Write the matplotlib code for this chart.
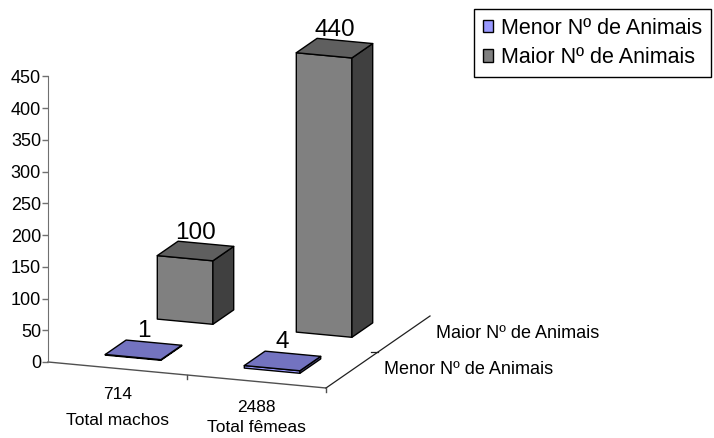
import matplotlib
matplotlib.use("Agg")
import matplotlib.pyplot as plt
from matplotlib.patches import Polygon, Patch

plt.rcParams["font.family"] = ["Liberation Sans", "DejaVu Sans"]

# dados
categorias = ["Total machos", "Total fêmeas"]
totais = ["714", "2488"]
series = ["Menor Nº de Animais", "Maior Nº de Animais"]
menor = [1, 4]
maior = [100, 440]
yticks = [0, 50, 100, 150, 200, 250, 300, 350, 400, 450]

# cores estilo excel (frente, topo, lado)
cores = {
    0: ("#9999FF", "#7373C0", "#4D4D80"),
    1: ("#808080", "#5F5F5F", "#404040"),
}

W, H = 714, 438
fig = plt.figure(figsize=(W / 100, H / 100), dpi=100)
ax = fig.add_axes([0, 0, 1, 1])

# escala: px por unidade
px_cat = 139.0
px_val = 285.7 / 450
x0, y0 = 48, 362
ax.set_xlim(-x0 / px_cat, (W - x0) / px_cat)
ax.set_ylim(-(H - y0) / px_val, y0 / px_val)

# projecao obliqua: categoria c, profundidade d, valor v
dx_d = 52 / px_cat
dy_c = -13 / px_val
dy_d = 36 / px_val


def proj(c, d, v):
    return (c + d * dx_d, v + c * dy_c + d * dy_d)


for s in ["top", "right", "bottom"]:
    ax.spines[s].set_visible(False)
ax.spines["left"].set_position(("data", 0))
ax.spines["left"].set_bounds(0, 450)
ax.spines["left"].set_color("#707070")
ax.set_xticks([])
ax.set_yticks(yticks)
ax.tick_params(axis="y", length=4, width=1, color="#707070", pad=1, labelsize=13)

# chao
f0 = proj(0, 0, 0)
f1 = proj(2, 0, 0)
f2 = proj(2, 2, 0)
ax.plot([f0[0], f1[0]], [f0[1], f1[1]], color="#505050", lw=1, clip_on=False)
ax.plot([f1[0], f2[0]], [f1[1], f2[1]], color="#202020", lw=0.9, clip_on=False)
for c in [1, 2]:
    p = proj(c, 0, 0)
    ax.plot([p[0], p[0]], [p[1], p[1] - 6], color="#505050", lw=1)
for d in [1]:
    p = proj(2, d, 0)
    ax.plot([p[0], p[0] - 0.05], [p[1], p[1]], color="#202020", lw=0.9)


def barra(c, d, v, serie):
    frente, topo, lado = cores[serie]
    c0, c1 = c + 0.3, c + 0.7
    d0, d1 = d + 0.3, d + 0.7
    faces = [
        ([proj(c0, d0, 0), proj(c1, d0, 0), proj(c1, d0, v), proj(c0, d0, v)], frente),
        ([proj(c1, d0, 0), proj(c1, d1, 0), proj(c1, d1, v), proj(c1, d0, v)], lado),
        ([proj(c0, d0, v), proj(c1, d0, v), proj(c1, d1, v), proj(c0, d1, v)], topo),
    ]
    for pts, cor in faces:
        ax.add_patch(Polygon(pts, closed=True, facecolor=cor, edgecolor="black",
                             lw=1, joinstyle="round", clip_on=False))
    top = proj(c + 0.5, d + 0.5, v)
    ax.annotate(str(v), top, xytext=(0, 9), textcoords="offset points",
                ha="center", va="baseline", fontsize=17.5)


# atras primeiro
for i, v in enumerate(maior):
    barra(i, 1, v, 1)
for i, v in enumerate(menor):
    barra(i, 0, v, 0)

# rotulos das categorias
for i in range(len(categorias)):
    p = proj(i + 0.5, 0, 0)
    ax.annotate(totais[i], p, xytext=(0, -26 * 0.72), textcoords="offset points",
                ha="center", va="center", fontsize=12.5)
    ax.annotate(categorias[i], p, xytext=(0, -min(52, 46 - 0) * 0.72 if i else -52 * 0.72),
                textcoords="offset points", ha="center", va="center", fontsize=12.5)

# rotulos das series
for j, nome in enumerate(series):
    p = proj(2, j + 0.5, 0)
    ax.annotate(nome, p, xytext=(32 * 0.72, 0), textcoords="offset points",
                ha="left", va="center", fontsize=13)

handles = [Patch(facecolor=cores[k][0], edgecolor="black", lw=1) for k in (0, 1)]
leg = fig.legend(handles, series, loc="upper left", bbox_to_anchor=(474 / W, 1 - 9 / H),
                 fontsize=15.5, frameon=True, fancybox=False, framealpha=1,
                 edgecolor="black", handlelength=0.5, handleheight=0.5,
                 handletextpad=0.35, labelspacing=0.4, borderpad=0.4, borderaxespad=0)
leg.get_frame().set_linewidth(1)

fig.savefig("out.png", dpi=100)
